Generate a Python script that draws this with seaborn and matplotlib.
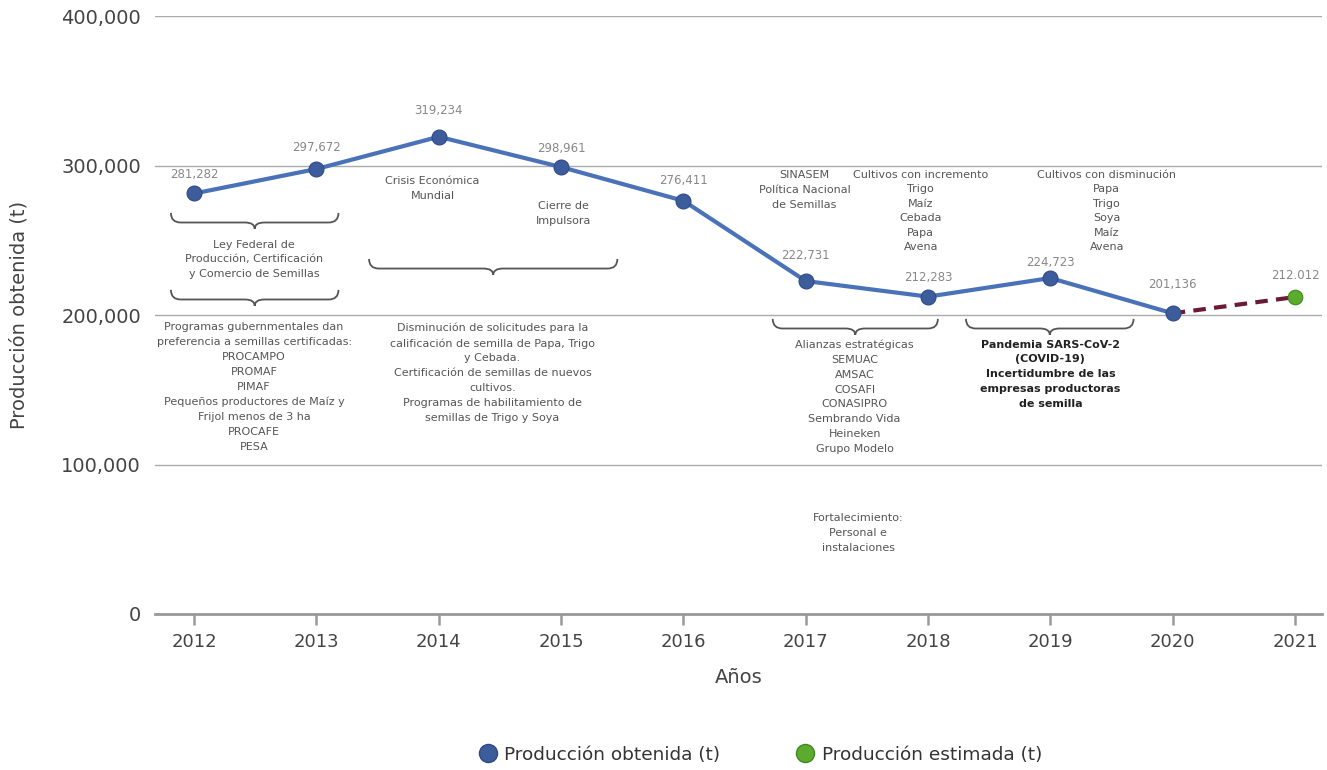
import numpy as np
import pandas as pd
import matplotlib
matplotlib.use("Agg")
import matplotlib.pyplot as plt
from matplotlib.path import Path
from matplotlib.patches import PathPatch
from matplotlib.lines import Line2D
import seaborn as sns

# data
years = [2012, 2013, 2014, 2015, 2016, 2017, 2018, 2019, 2020]
produccion = [281282, 297672, 319234, 298961, 276411, 222731, 212283, 224723, 201136]
est_years = [2020, 2021]
estimada = [201136, 212012]
est_label = "212.012"

df = pd.DataFrame({"Año": years, "Producción": produccion})
df_est = pd.DataFrame({"Año": est_years, "Producción": estimada})

sns.set_style("white")
plt.rcParams["font.family"] = ["DejaVu Sans"]

BLUE = "#4a72b8"
DOT = "#3d5c9c"
GREEN = "#5aab2e"
MAROON = "#6b1a35"
TXT = "#555555"

fig = plt.figure(figsize=(13.27, 7.7), dpi=100)
ax = fig.add_axes([0.1168, 0.2026, 0.8794, 0.7766])

sns.lineplot(data=df_est, x="Año", y="Producción", ax=ax, color=MAROON,
             linewidth=3, linestyle=(0, (3, 2)), zorder=2)
sns.lineplot(data=df, x="Año", y="Producción", ax=ax, color=BLUE,
             linewidth=3, zorder=3)
sns.scatterplot(data=df, x="Año", y="Producción", ax=ax, color=DOT, s=115,
                edgecolor="#2e4a85", linewidth=0.8, zorder=4)
sns.scatterplot(x=[est_years[-1]], y=[estimada[-1]], ax=ax, color=GREEN, s=110,
                edgecolor="#3f8a1f", linewidth=0.8, zorder=4)

# value labels (vertical offset in points, as placed in the original)
label_offsets = [13.7, 15.8, 18.7, 13.7, 14.4, 18.7, 13.7, 11.5, 20.5]
for x, y, off in zip(years, produccion, label_offsets):
    ax.annotate(f"{y:,}", (x, y), xytext=(0, off), textcoords="offset points",
                ha="center", va="center", fontsize=8.5, color="#888888")
ax.annotate(est_label, (est_years[-1], estimada[-1]), xytext=(0, 15.8),
            textcoords="offset points", ha="center", va="center",
            fontsize=8.5, color="#888888")


def brace(x0, x1, ytop, h=10700, rx=0.08):
    xm = (x0 + x1) / 2
    yh = ytop - 0.6 * h
    yt = ytop - h
    verts = [(x0, ytop), (x0, yh), (x0 + rx, yh),
             (xm - rx, yh), (xm, yh), (xm, yt),
             (xm, yh), (xm + rx, yh),
             (x1 - rx, yh), (x1, yh), (x1, ytop)]
    codes = [Path.MOVETO, Path.CURVE3, Path.CURVE3,
             Path.LINETO, Path.CURVE3, Path.CURVE3,
             Path.CURVE3, Path.CURVE3,
             Path.LINETO, Path.CURVE3, Path.CURVE3]
    ax.add_patch(PathPatch(Path(verts, codes), fill=False, edgecolor="#555555",
                           linewidth=1.3, zorder=2))


brace(2011.81, 2013.18, 268300)
brace(2011.81, 2013.18, 216800)
brace(2013.43, 2015.46, 237500)
brace(2016.73, 2018.08, 197400)
brace(2018.31, 2019.68, 197400)

notes = [
    (2012.49, 250500, "Ley Federal de\nProducción, Certificación\ny Comercio de Semillas", "normal", 1.6),
    (2012.49, 195000, "Programas gubernmentales dan\npreferencia a semillas certificadas:\nPROCAMPO\nPROMAF\nPIMAF\n"
                      "Pequeños productores de Maíz y\nFrijol menos de 3 ha\nPROCAFE\nPESA", "normal", 1.6),
    (2013.95, 293000, "Crisis Económica\nMundial", "normal", 1.6),
    (2015.02, 276300, "Cierre de\nImpulsora", "normal", 1.6),
    (2014.44, 195000, "Disminución de solicitudes para la\ncalificación de semilla de Papa, Trigo\ny Cebada.\n"
                      "Certificación de semillas de nuevos\ncultivos.\nProgramas de habilitamiento de\nsemillas de Trigo y Soya", "normal", 1.6),
    (2016.99, 297000, "SINASEM\nPolítica Nacional\nde Semillas", "normal", 1.6),
    (2017.94, 297200, "Cultivos con incremento\nTrigo\nMaíz\nCebada\nPapa\nAvena", "normal", 1.57),
    (2019.46, 297200, "Cultivos con disminución\nPapa\nTrigo\nSoya\nMaíz\nAvena", "normal", 1.57),
    (2017.40, 183500, "Alianzas estratégicas\nSEMUAC\nAMSAC\nCOSAFI\nCONASIPRO\nSembrando Vida\nHeineken\nGrupo Modelo", "normal", 1.6),
    (2019.00, 183500, "Pandemia SARS-CoV-2\n(COVID-19)\nIncertidumbre de las\nempresas productoras\nde semilla", "bold", 1.6),
    (2017.43, 67500, "Fortalecimiento:\nPersonal e\ninstalaciones", "normal", 1.6),
]
for x, y, t, w, ls in notes:
    ax.text(x, y, t, ha="center", va="top", fontsize=8, linespacing=ls,
            color="#222222" if w == "bold" else TXT, fontweight=w)

ax.set_xlim(2011.68, 2021.22)
ax.set_ylim(0, 400000)
ax.set_xticks(list(range(2012, 2022)))
ax.set_yticks([0, 100000, 200000, 300000, 400000])
ax.yaxis.set_major_formatter(matplotlib.ticker.FuncFormatter(lambda v, p: f"{int(v):,}"))
ax.grid(axis="y", color="#aaaaaa", linewidth=1)
ax.grid(axis="x", visible=False)
for s in ["top", "right", "left"]:
    ax.spines[s].set_visible(False)
ax.spines["bottom"].set_color("#999999")
ax.spines["bottom"].set_linewidth(2)
ax.tick_params(axis="x", length=8, width=1.8, color="#999999", labelsize=13,
               labelcolor="#444444", pad=6, bottom=True)
ax.tick_params(axis="y", length=0, labelsize=14, labelcolor="#444444", pad=10)
ax.set_xlabel("Años", fontsize=14, color="#444444", labelpad=12)
ax.set_ylabel("Producción obtenida (t)", fontsize=14, color="#444444", labelpad=24)

handles = [
    Line2D([], [], marker="o", linestyle="", markersize=13, markerfacecolor=DOT,
           markeredgecolor="#2e4a85", label="Producción obtenida (t)"),
    Line2D([], [], marker="o", linestyle="", markersize=13, markerfacecolor=GREEN,
           markeredgecolor="#3f8a1f", label="Producción estimada (t)"),
]
fig.legend(handles=handles, loc="center", bbox_to_anchor=(0.5695, 0.02), ncol=2,
           frameon=False, fontsize=13.3, columnspacing=3.6, handletextpad=-0.1,
           labelcolor="#333333")

fig.savefig("out.png", dpi=100)
